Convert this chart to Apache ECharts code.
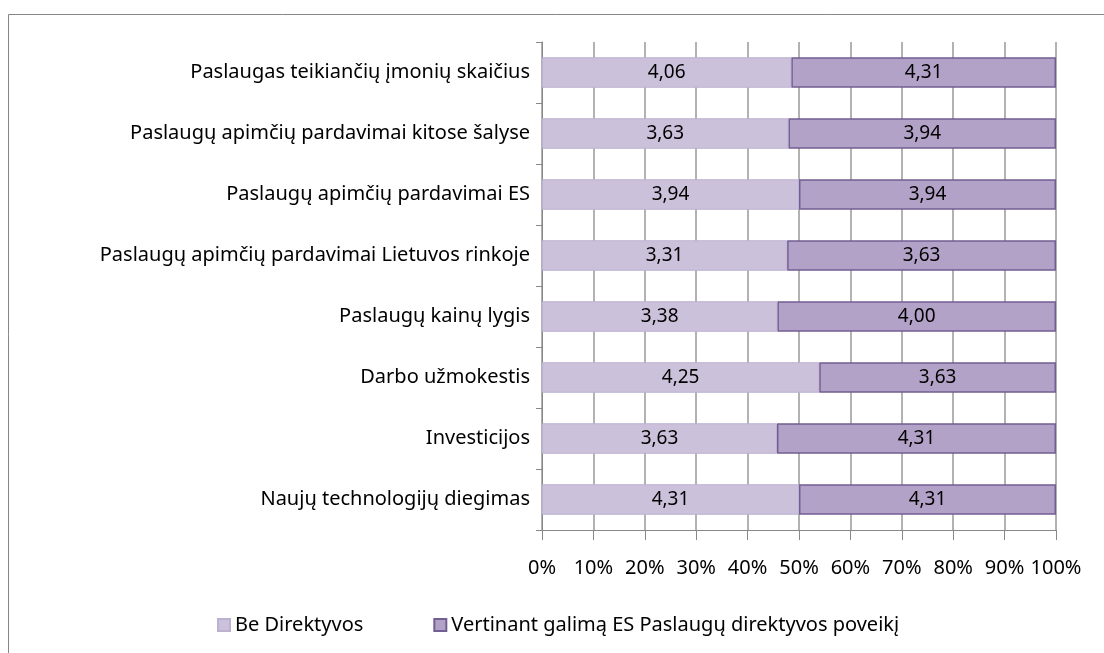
<!DOCTYPE html>
<html>
  <head>
    <meta charset="UTF-8" />
    <title>Paslaugų direktyvos poveikis</title>
    <script src="https://cdn.jsdelivr.net/npm/echarts@6/dist/echarts.min.js"></script>
    <style>
      html, body { margin: 0; padding: 0; background: #fff; }
      #chart { width: 1104px; height: 653px; }
    </style>
  </head>
  <body>
    <div id="chart"></div>
    <script type="text/javascript">
      // kategorijos (iš viršaus į apačią)
      var categories = [
        "Paslaugas teikiančių įmonių skaičius",
        "Paslaugų apimčių pardavimai kitose šalyse",
        "Paslaugų apimčių pardavimai ES",
        "Paslaugų apimčių pardavimai Lietuvos rinkoje",
        "Paslaugų kainų lygis",
        "Darbo užmokestis",
        "Investicijos",
        "Naujų technologijų diegimas"
      ];
      var seriesNames = ["Be Direktyvos", "Vertinant galimą ES Paslaugų direktyvos poveikį"];
      var beDirektyvos = [4.06, 3.63, 3.94, 3.31, 3.38, 4.25, 3.63, 4.31];
      var suDirektyva = [4.31, 3.94, 3.94, 3.63, 4.00, 3.63, 4.31, 4.31];
      var tickLabels = ["0%", "10%", "20%", "30%", "40%", "50%", "60%", "70%", "80%", "90%", "100%"];

      var font = "Noto Sans";

      // 100% sudėtinės juostos: kiekvienos eilutės dalis procentais
      function share(a, b) {
        return a.map(function (v, i) { return (v / (v + b[i])) * 100; });
      }
      var raw = [beDirektyvos, suDirektyva];
      var pct = [share(beDirektyvos, suDirektyva), share(suDirektyva, beDirektyvos)];

      function fmt(s) {
        return function (p) { return raw[s][p.dataIndex].toFixed(2).replace(".", ","); };
      }

      var chart = echarts.init(document.getElementById("chart"));
      var option = {
        animation: false,
        textStyle: { fontFamily: font },
        graphic: [
          {
            type: "rect",
            shape: { x: 8.5, y: 14.5, width: 1200, height: 700 },
            style: { fill: "none", stroke: "#868686", lineWidth: 1 },
            silent: true
          }
        ],
        grid: { left: 542, right: 48, top: 42, bottom: 123 },
        legend: {
          left: 212,
          top: 610,
          itemWidth: 12,
          itemHeight: 12,
          itemGap: 70,
          icon: "rect",
          textStyle: { fontFamily: font, fontSize: 20, color: "#000" },
          data: seriesNames
        },
        xAxis: {
          type: "value",
          min: 0,
          max: 100,
          interval: 10,
          axisLine: { show: true, lineStyle: { color: "#888", width: 1 } },
          axisTick: { show: true, length: 10, lineStyle: { color: "#888" } },
          splitLine: { show: true, lineStyle: { color: "#999", width: 1.5 } },
          axisLabel: {
            margin: 28,
            fontSize: 20,
            color: "#000",
            fontFamily: font,
            formatter: function (v) { return tickLabels[Math.round(v / 10)]; }
          }
        },
        yAxis: {
          type: "category",
          inverse: true,
          data: categories,
          axisLine: { show: true, lineStyle: { color: "#888", width: 1 } },
          axisTick: { show: true, length: 6, lineStyle: { color: "#888" } },
          axisLabel: { margin: 12, fontSize: 20, color: "#000", fontFamily: font }
        },
        series: [
          {
            name: seriesNames[0],
            type: "bar",
            stack: "all",
            barWidth: "50%",
            data: pct[0],
            itemStyle: { color: "#CCC1DA", borderColor: "#BDB1D2", borderWidth: 1 },
            label: { show: true, position: "inside", fontSize: 19, color: "#000", fontFamily: font, formatter: fmt(0) }
          },
          {
            name: seriesNames[1],
            type: "bar",
            stack: "all",
            barWidth: "50%",
            data: pct[1],
            itemStyle: { color: "#B3A2C7", borderColor: "#735E93", borderWidth: 1.5 },
            label: { show: true, position: "inside", fontSize: 19, color: "#000", fontFamily: font, formatter: fmt(1) }
          }
        ]
      };
      chart.setOption(option);
    </script>
  </body>
</html>
